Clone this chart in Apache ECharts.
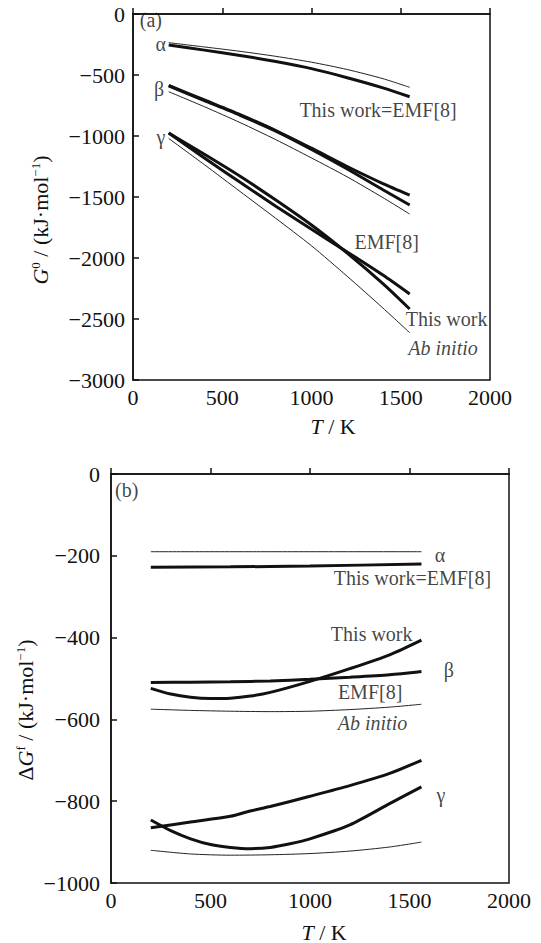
<!DOCTYPE html>
<html>
<head>
<meta charset="utf-8">
<script src="https://cdn.jsdelivr.net/npm/echarts@6/dist/echarts.min.js"></script>
<style>
html, body { margin: 0; padding: 0; background: #fff; }
#chart { width: 541px; height: 943px; }
</style>
</head>
<body>
<div id="chart"></div>
<script>
// panel (a): G0 vs T, pairs of [T, G]
var alphaThisWorkA = [[200, -254], [400, -296], [600, -340], [800, -390], [1000, -448], [1200, -522], [1400, -605], [1550, -678]];
var alphaAbInitioA = [[200, -235], [400, -270], [600, -306], [800, -347], [1000, -395], [1200, -455], [1400, -530], [1550, -601]];
var betaThisWorkA = [[200, -590], [400, -710], [600, -830], [800, -960], [1000, -1110], [1200, -1270], [1400, -1440], [1550, -1566]];
var betaEmfA = [[200, -585], [400, -705], [600, -825], [800, -955], [1000, -1100], [1200, -1250], [1400, -1390], [1550, -1484]];
var betaAbInitioA = [[200, -637], [400, -760], [600, -890], [800, -1030], [1000, -1180], [1200, -1335], [1400, -1505], [1550, -1640]];
var gammaThisWorkA = [[200, -975], [400, -1150], [600, -1330], [800, -1525], [1000, -1730], [1200, -1960], [1400, -2210], [1550, -2418]];
var gammaEmfA = [[200, -975], [400, -1180], [600, -1380], [800, -1575], [1000, -1765], [1200, -1950], [1400, -2140], [1550, -2295]];
var gammaAbInitioA = [[200, -1020], [400, -1235], [600, -1455], [800, -1675], [1000, -1900], [1200, -2150], [1400, -2410], [1550, -2612]];

// panel (b): dGf vs T
var alphaThisWorkB = [[200, -228], [600, -227], [1000, -225], [1560, -220]];
var alphaAbInitioB = [[200, -190], [800, -190], [1560, -190]];
var betaThisWorkB = [[200, -524], [300, -538], [400, -546], [500, -549], [600, -548], [700, -543], [800, -534], [1000, -507], [1200, -476], [1400, -442], [1560, -406]];
var betaEmfB = [[200, -510], [400, -509], [600, -508], [800, -506], [1000, -502], [1200, -497], [1400, -491], [1560, -483]];
var betaAbInitioB = [[200, -575], [400, -578], [600, -580], [800, -581], [1000, -580], [1200, -576], [1400, -570], [1560, -563]];
var gammaThisWorkB = [[200, -846], [300, -872], [400, -892], [500, -906], [600, -913], [700, -916], [800, -913], [900, -904], [1000, -892], [1200, -858], [1400, -806], [1560, -765]];
var gammaEmfB = [[200, -865], [400, -851], [600, -837], [700, -824], [800, -813], [1000, -788], [1200, -762], [1400, -732], [1560, -700]];
var gammaAbInitioB = [[200, -920], [400, -929], [600, -932], [800, -931], [1000, -928], [1200, -922], [1400, -912], [1560, -900]];

// annotations [T, G, text]
var notesA = [
  [100, -50, '(a)'], [156, -246, 'α'], [146, -611, 'β'], [157, -1008, 'γ'],
  [1373, -787, 'This work=EMF[8]'], [1421, -1866, 'EMF[8]'],
  [1757, -2500, 'This work'], [1737, -2738, 'Ab initio']
];
var notesB = [
  [79, -39, '(b)'], [1653, -198, 'α'], [1515, -254, 'This work=EMF[8]'],
  [1310, -390, 'This work'], [1698, -479, 'β'], [1302, -533, 'EMF[8]'],
  [1314, -609, 'Ab initio'], [1658, -785, 'γ']
];

(function () {
  var font = "'Liberation Serif', 'Times New Roman', serif";
  var ink = '#111';
  var chart = echarts.init(document.getElementById('chart'), null, { renderer: 'svg' });

  function minus(v) { return v < 0 ? '\u2212' + (-v) : String(v); }

  function xAx(idx, margin) {
    return {
      type: 'value', gridIndex: idx, min: 0, max: 2000, interval: 500,
      axisLine: { lineStyle: { color: ink, width: 1.5 } },
      axisTick: { inside: true, length: 6, lineStyle: { color: ink, width: 1.5 } },
      axisLabel: { color: ink, fontFamily: font, fontSize: 22, margin: margin, formatter: minus },
      splitLine: { show: false }
    };
  }
  function yAx(idx, min, interval, margin) {
    return {
      type: 'value', gridIndex: idx, min: min, max: 0, interval: interval,
      axisLine: { lineStyle: { color: ink, width: 1.5 } },
      axisTick: { inside: true, length: 6, lineStyle: { color: ink, width: 1.5 } },
      axisLabel: { color: ink, fontFamily: font, fontSize: 22, margin: margin, formatter: minus },
      splitLine: { show: false }
    };
  }
  function line(idx, data, thick) {
    return {
      type: 'line', xAxisIndex: idx, yAxisIndex: idx, data: data,
      showSymbol: false, smooth: 0.25, silent: true,
      lineStyle: thick ? { color: '#111', width: 3 } : { color: '#222', width: 1 }
    };
  }
  function notes(idx, list) {
    return {
      type: 'scatter', xAxisIndex: idx, yAxisIndex: idx, symbolSize: 1, silent: true,
      itemStyle: { color: 'rgba(0,0,0,0)' },
      data: list.map(function (n) {
        return {
          value: [n[0], n[1]],
          label: {
            show: true, position: 'inside', formatter: n[2],
            color: ink, fontFamily: font, fontSize: 20,
            fontStyle: n[2] === 'Ab initio' ? 'italic' : 'normal'
          }
        };
      })
    };
  }

  var rich = {
    n: { fontFamily: font, fontSize: 22, color: ink },
    i: { fontFamily: font, fontSize: 22, fontStyle: 'italic', color: ink },
    sup: { fontFamily: font, fontSize: 13, verticalAlign: 'top', color: ink }
  };
  function title(x, y, rot, text) {
    return {
      type: 'text', x: x, y: y, rotation: rot,
      style: { text: text, align: 'center', verticalAlign: 'middle', rich: rich, font: '22px ' + font, fill: ink }
    };
  }

  chart.setOption({
    animation: false,
    textStyle: { fontFamily: font },
    grid: [
      { left: 133, top: 14, width: 357, height: 366, show: true, borderColor: ink, borderWidth: 1.5 },
      { left: 111, top: 474, width: 398, height: 409, show: true, borderColor: ink, borderWidth: 1.5 }
    ],
    xAxis: [xAx(0, 6), xAx(1, 6)],
    yAxis: [yAx(0, -3000, 500, 8), yAx(1, -1000, 200, 11)],
    series: [
      line(0, alphaAbInitioA, false), line(0, alphaThisWorkA, true),
      line(0, betaAbInitioA, false), line(0, betaEmfA, true), line(0, betaThisWorkA, true),
      line(0, gammaAbInitioA, false), line(0, gammaEmfA, true), line(0, gammaThisWorkA, true),
      line(1, alphaAbInitioB, false), line(1, alphaThisWorkB, true),
      line(1, betaAbInitioB, false), line(1, betaEmfB, true), line(1, betaThisWorkB, true),
      line(1, gammaAbInitioB, false), line(1, gammaEmfB, true), line(1, gammaThisWorkB, true),
      notes(0, notesA), notes(1, notesB)
    ],
    graphic: [
      title(40, 220, Math.PI / 2, '{i|G}{sup|0}{n| / (kJ·mol}{sup|\u22121}{n|)}'),
      title(333, 426, 0, '{i|T}{n| / K}'),
      title(25, 710, Math.PI / 2, '{n|Δ}{i|G}{sup|f}{n| / (kJ·mol}{sup|\u22121}{n|)}'),
      title(324, 932, 0, '{i|T}{n| / K}')
    ]
  });
})();
</script>
</body>
</html>
